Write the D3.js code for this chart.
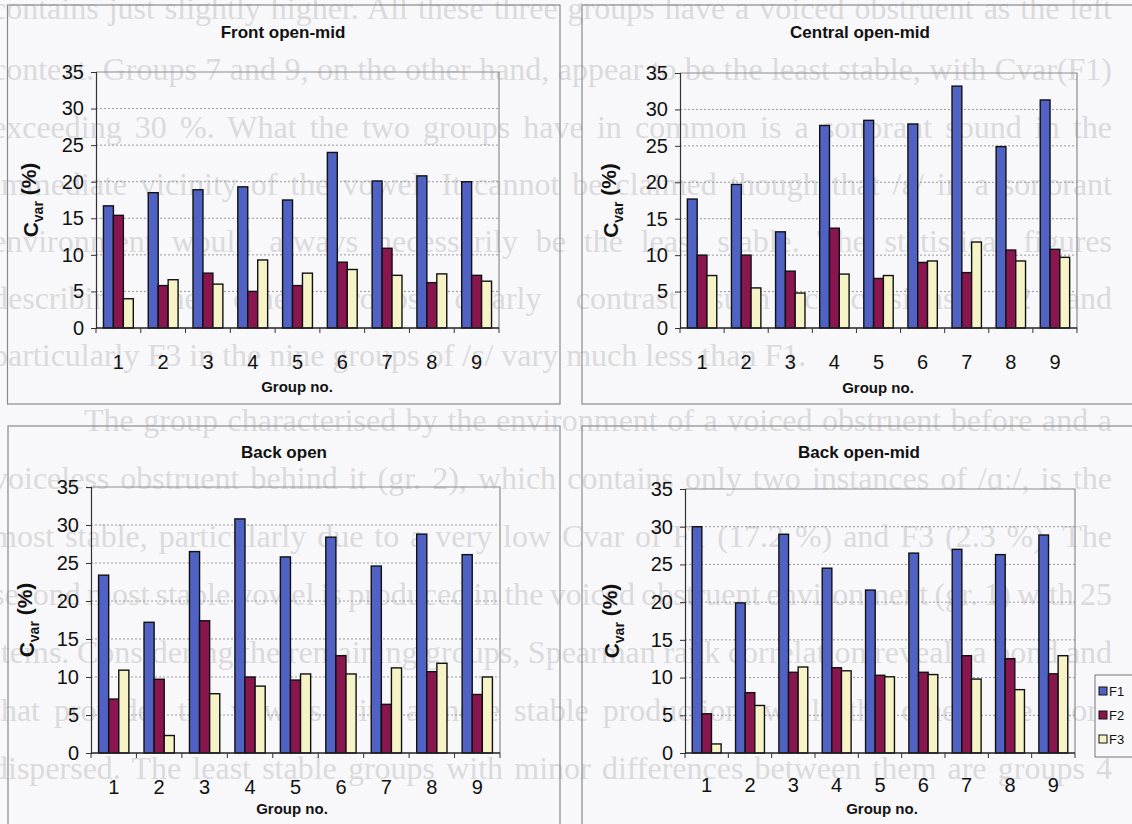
<!DOCTYPE html>
<meta charset="utf-8">
<html>
<head><title>Cvar of formants</title></head>
<style>
body { margin: 0; background: #f8f8fa; }
svg { display: block; }
</style>
<body>
<script src="https://d3js.org/d3.v7.min.js"></script>
<svg id="chart" width="1132" height="824"></svg>
<script>

// groups and series
var groups = ["1", "2", "3", "4", "5", "6", "7", "8", "9"];
var series = ["F1", "F2", "F3"];
var yTicks = [0, 5, 10, 15, 20, 25, 30, 35];

// Front open-mid
var frontF1 = [16.7, 18.5, 18.9, 19.3, 17.5, 24.0, 20.1, 20.8, 20.0];
var frontF2 = [15.4, 5.8, 7.5, 5.0, 5.8, 9.0, 10.9, 6.2, 7.2];
var frontF3 = [4.0, 6.6, 6.0, 9.3, 7.5, 8.0, 7.2, 7.4, 6.4];

// Central open-mid
var centralF1 = [17.7, 19.7, 13.2, 27.8, 28.5, 28.0, 33.2, 24.9, 31.3];
var centralF2 = [10.0, 10.0, 7.8, 13.7, 6.8, 9.0, 7.6, 10.7, 10.8];
var centralF3 = [7.2, 5.5, 4.8, 7.4, 7.2, 9.2, 11.8, 9.2, 9.7];

// Back open
var backOpenF1 = [23.4, 17.2, 26.5, 30.8, 25.8, 28.4, 24.6, 28.8, 26.1];
var backOpenF2 = [7.1, 9.7, 17.4, 10.0, 9.6, 12.8, 6.4, 10.7, 7.7];
var backOpenF3 = [10.9, 2.3, 7.8, 8.8, 10.4, 10.4, 11.2, 11.8, 10.0];

// Back open-mid
var backMidF1 = [30.0, 19.9, 29.0, 24.5, 21.6, 26.5, 27.0, 26.3, 28.9];
var backMidF2 = [5.2, 8.0, 10.7, 11.3, 10.3, 10.7, 12.9, 12.5, 10.5];
var backMidF3 = [1.2, 6.3, 11.4, 10.9, 10.1, 10.4, 9.8, 8.4, 12.9];

var colors = ["#5062c4", "#8a1650", "#f6f4c6"];

// scanned page text showing behind the charts
var pageLines = [
  "contains just slightly higher. All these three groups have a voiced obstruent as the left",
  "context. Groups 7 and 9, on the other hand, appear to be the least stable, with Cvar(F1)",
  "exceeding 30 %. What the two groups have in common is a sonorant sound in the",
  "immediate vicinity of the vowel. It cannot be claimed though that /ɛ/ in a sonorant",
  "environment would always necessarily be the least stable. The statistical figures",
  "describing the other groups clearly contrast such conclusions. F2 and",
  "particularly F3 in the nine groups of /ɛ/ vary much less than F1.",
  "The group characterised by the environment of a voiced obstruent before and a",
  "voiceless obstruent behind it (gr. 2), which contains only two instances of /ɑː/, is the",
  "most stable, particularly due to a very low Cvar of F1 (17.2 %) and F3 (2.3 %). The",
  "second most stable vowel is produced in the voiced obstruent environment (gr. 1) with 25",
  "items. Considering the remaining groups, Spearman rank correlation reveals a bond and",
  "that provides the vowels with a more stable production, while the others are more",
  "dispersed. The least stable groups with minor differences between them are groups 4"
];

var svg = d3.select("#chart");

// faint page text, justified with word spacing
var lineY = [19, 80, 138, 195, 252, 309, 366, 431, 489, 547, 605, 663, 721, 779];
var lineX = [-8, -8, -8, -8, -8, -8, -8, 84, -8, -8, -8, -8, -8, -8];
var lineEnd = [1112, 1112, 1112, 1112, 1112, 1112, 0, 1112, 1112, 1112, 1112, 1112, 1112, 1112];
svg.append("g")
  .selectAll("text")
  .data(pageLines)
  .enter()
  .append("text")
  .attr("x", function(d, i) { return lineX[i]; })
  .attr("y", function(d, i) { return lineY[i]; })
  .style("font-family", "'Liberation Serif', 'DejaVu Serif', serif")
  .style("font-size", "32px")
  .style("fill", "#dadadd")
  .text(function(d) { return d; })
  .each(function(d, i) {
    if (!lineEnd[i]) return;
    var len = this.getComputedTextLength();
    var gaps = d.split(" ").length - 1;
    var want = lineEnd[i] - lineX[i];
    var ws = (want - len) / gaps;
    if (ws > -3) {
      d3.select(this).style("word-spacing", ws + "px");
    } else {
      d3.select(this).attr("textLength", want).attr("lengthAdjust", "spacingAndGlyphs");
    }
  });

// panel layout
var panels = [
  { title: "Front open-mid", f1: frontF1, f2: frontF2, f3: frontF3,
    box: [7.5, 5, 560, 404], x0: 96, x1: 499, yTop: 72, yBot: 328,
    titleX: 283, titleY: 32, labX: 31, tickY: 362, nameX: 297, nameY: 387 },
  { title: "Central open-mid", f1: centralF1, f2: centralF2, f3: centralF3,
    box: [582, 5, 1145, 404], x0: 680, x1: 1077, yTop: 73, yBot: 328,
    titleX: 860, titleY: 32, labX: 611, tickY: 362, nameX: 878, nameY: 388 },
  { title: "Back open", f1: backOpenF1, f2: backOpenF2, f3: backOpenF3,
    box: [8, 426, 560, 840], x0: 91, x1: 500, yTop: 487, yBot: 753,
    titleX: 284, titleY: 452, labX: 27, tickY: 787, nameX: 292, nameY: 809 },
  { title: "Back open-mid", f1: backMidF1, f2: backMidF2, f3: backMidF3,
    box: [582, 426, 1145, 840], x0: 685, x1: 1075, yTop: 489, yBot: 753,
    titleX: 859, titleY: 452, labX: 612, tickY: 785, nameX: 882, nameY: 809, legend: true }
];

panels.forEach(function(p) {
  var g = svg.append("g");

  // panel frame
  g.append("rect")
    .attr("x", p.box[0]).attr("y", p.box[1])
    .attr("width", p.box[2] - p.box[0]).attr("height", p.box[3] - p.box[1])
    .attr("fill", "none").attr("stroke", "#8a8a8a").attr("stroke-width", 1.2);

  var x = d3.scaleBand().domain(groups).range([p.x0, p.x1]);
  var bw = x.bandwidth() / 4.5;
  var xs = d3.scaleBand().domain(series).range([0, bw * 3]);
  var y = d3.scaleLinear().domain([0, 35]).range([p.yBot, p.yTop]);

  // dotted gridlines
  g.append("g")
    .selectAll("line")
    .data(yTicks.filter(function(t) { return t > 0 && t < 35; }))
    .enter()
    .append("line")
    .attr("x1", p.x0).attr("x2", p.x1)
    .attr("y1", function(d) { return y(d); }).attr("y2", function(d) { return y(d); })
    .attr("stroke", "#9a9a9a").attr("stroke-width", 1).attr("stroke-dasharray", "2,2");

  // plot area border top and right
  g.append("path")
    .attr("d", "M" + p.x0 + "," + y(35) + "H" + p.x1 + "V" + y(0))
    .attr("fill", "none").attr("stroke", "#8c8c8c").attr("stroke-width", 1.2);

  // bars
  var rows = groups.map(function(gr, i) {
    return [p.f1[i], p.f2[i], p.f3[i]];
  });
  g.append("g")
    .selectAll("g")
    .data(rows)
    .enter()
    .append("g")
    .attr("transform", function(d, i) {
      return "translate(" + (x(groups[i]) + (x.bandwidth() - bw * 3) / 2) + ",0)";
    })
    .selectAll("rect")
    .data(function(d) { return d; })
    .enter()
    .append("rect")
    .attr("x", function(d, j) { return xs(series[j]); })
    .attr("y", function(d) { return y(d); })
    .attr("width", bw)
    .attr("height", function(d) { return y(0) - y(d); })
    .attr("fill", function(d, j) { return colors[j]; })
    .attr("stroke", "#111").attr("stroke-width", 1.4);

  // y axis
  var yAxis = g.append("g")
    .attr("transform", "translate(" + p.x0 + ",0)")
    .call(d3.axisLeft(y).tickValues(yTicks).tickSize(5).tickPadding(7));
  yAxis.select(".domain").attr("stroke", "#333").attr("stroke-width", 1.2);
  yAxis.selectAll(".tick line").attr("stroke", "#333");
  yAxis.selectAll("text")
    .style("font-family", "Arial, 'Liberation Sans', sans-serif")
    .style("font-size", "20px").attr("fill", "#111");

  // x axis: ticks on the category edges
  var xAxis = g.append("g")
    .attr("transform", "translate(0," + p.yBot + ")");
  xAxis.append("line")
    .attr("x1", p.x0).attr("x2", p.x1)
    .attr("stroke", "#222").attr("stroke-width", 1.4);
  xAxis.selectAll("line.edge")
    .data(groups.concat(["end"]))
    .enter()
    .append("line")
    .attr("class", "edge")
    .attr("x1", function(d, i) { return p.x0 + i * x.step(); })
    .attr("x2", function(d, i) { return p.x0 + i * x.step(); })
    .attr("y1", 0).attr("y2", 5)
    .attr("stroke", "#333");
  g.append("g")
    .selectAll("text")
    .data(groups)
    .enter()
    .append("text")
    .attr("x", function(d) { return x(d) + x.bandwidth() / 2; })
    .attr("y", p.tickY)
    .attr("dy", "0.35em")
    .attr("text-anchor", "middle")
    .style("font-family", "Arial, 'Liberation Sans', sans-serif")
    .style("font-size", "20px").attr("fill", "#111")
    .text(function(d) { return d; });

  // titles
  g.append("text")
    .attr("x", p.titleX).attr("y", p.titleY).attr("dy", "0.35em")
    .attr("text-anchor", "middle")
    .style("font-family", "Arial, 'Liberation Sans', sans-serif")
    .style("font-size", "17px").style("font-weight", "bold").attr("fill", "#111")
    .text(p.title);

  g.append("text")
    .attr("x", p.nameX).attr("y", p.nameY).attr("dy", "0.35em")
    .attr("text-anchor", "middle")
    .style("font-family", "Arial, 'Liberation Sans', sans-serif")
    .style("font-size", "15px").style("font-weight", "bold").attr("fill", "#111")
    .text("Group no.");

  var lab = g.append("text")
    .attr("transform", "translate(" + p.labX + "," + ((p.yTop + p.yBot) / 2) + ") rotate(-90)")
    .attr("dy", "0.35em")
    .attr("text-anchor", "middle")
    .style("font-family", "Arial, 'Liberation Sans', sans-serif")
    .style("font-size", "21px").style("font-weight", "bold").attr("fill", "#111");
  lab.append("tspan").text("C");
  lab.append("tspan").attr("dy", "0.3em").style("font-size", "14px").text("var");
  lab.append("tspan").attr("dy", "-0.3em").text(" (%)");

  // legend
  if (p.legend) {
    var lg = g.append("g");
    lg.append("rect")
      .attr("x", 1095).attr("y", 675).attr("width", 60).attr("height", 82)
      .attr("fill", "#f8f8fa").attr("stroke", "#777");
    var item = lg.selectAll("g")
      .data(series)
      .enter()
      .append("g")
      .attr("transform", function(d, i) { return "translate(1099," + (691 + i * 24) + ")"; });
    item.append("rect")
      .attr("x", 0).attr("y", -4).attr("width", 8).attr("height", 8)
      .attr("fill", function(d, i) { return colors[i]; })
      .attr("stroke", "#111");
    item.append("text")
      .attr("x", 10).attr("dy", "0.35em")
      .style("font-family", "Arial, 'Liberation Sans', sans-serif")
      .style("font-size", "13px").attr("fill", "#111")
      .text(function(d) { return d; });
  }
});

</script>
</body>
</html>
